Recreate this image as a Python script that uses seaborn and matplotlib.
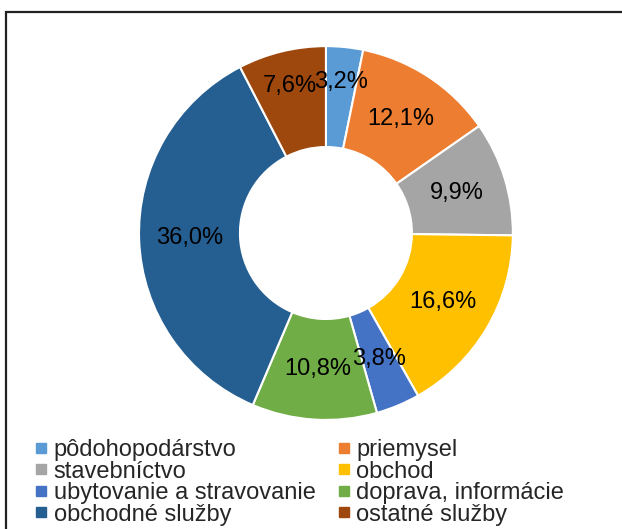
import matplotlib
matplotlib.use("Agg")
import numpy as np
import matplotlib.pyplot as plt
import seaborn as sns
from matplotlib.lines import Line2D
from matplotlib.patches import Rectangle

# data
sectors = ['pôdohopodárstvo', 'priemysel', 'stavebníctvo', 'obchod',
           'ubytovanie a stravovanie', 'doprava, informácie',
           'obchodné služby', 'ostatné služby']
shares = [3.2, 12.1, 9.9, 16.6, 3.8, 10.8, 36.0, 7.6]
colors = ['#5B9BD5', '#ED7D31', '#A5A5A5', '#FFC000',
          '#4472C4', '#70AD47', '#255E91', '#9E480E']

sns.set_theme(style="white")
plt.rcParams['font.family'] = ['Liberation Sans', 'DejaVu Sans']

fig = plt.figure(figsize=(6.22, 5.29), dpi=100)
ax = fig.add_axes([0.2235, 0.206, 0.601, 0.707])

wedges, texts, autotexts = ax.pie(
    shares, colors=colors, startangle=90, counterclock=False,
    radius=1.0, pctdistance=0.73,
    autopct=lambda p: f'{p:.1f}%'.replace('.', ','),
    wedgeprops=dict(width=0.54, edgecolor='white', linewidth=1.5),
    textprops=dict(fontsize=17, color='black'))

# labels of the slices at the very top sit a bit further out (as in Excel)
for w, t in zip(wedges, autotexts):
    mid = np.deg2rad((w.theta1 + w.theta2) / 2)
    if np.sin(mid) > 0.95:
        t.set_position((0.81 * np.cos(mid), 0.81 * np.sin(mid)))

ax.set_xlim(-1, 1)
ax.set_ylim(-1, 1)
ax.set_aspect('equal')
ax.axis('off')

# legend filled row by row, like the original
order = [0, 2, 4, 6, 1, 3, 5, 7]
handles = [Line2D([], [], marker='s', linestyle='none', markersize=7,
                  markerfacecolor=colors[i], markeredgecolor=colors[i])
           for i in order]
labels = [sectors[i] for i in order]
fig.legend(handles, labels, ncol=2, loc='upper left',
           bbox_to_anchor=(36.5 / 622, 1 - 439 / 529), frameon=False,
           fontsize=17, handlelength=0.41, handletextpad=0.31,
           labelspacing=-0.02, columnspacing=1.0, borderpad=0,
           borderaxespad=0)

# chart frame (cut off at right and bottom)
fig.patches.append(Rectangle((6 / 622, -0.1), 1.5, 1.1 - 11.5 / 529,
                             transform=fig.transFigure, fill=False,
                             edgecolor='#222222', linewidth=1.6))

fig.savefig('out.png', dpi=100)
